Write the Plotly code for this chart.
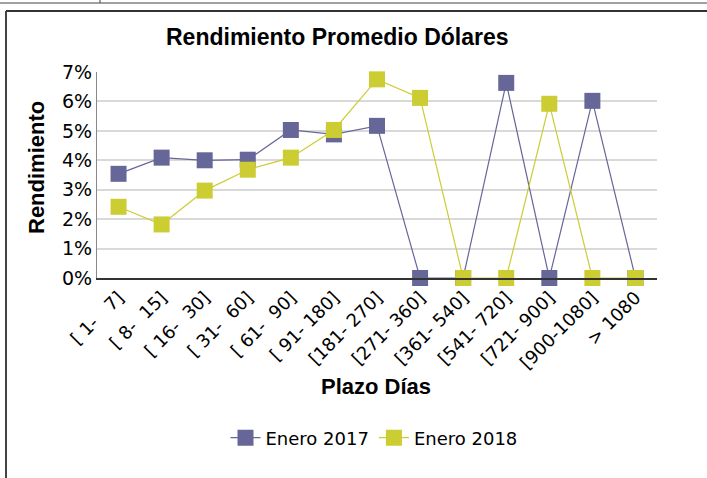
import plotly.graph_objects as go

NB = "\u00a0"
categories = ["[ 1-   7]", "[ 8-  15]", "[ 16-  30]", "[ 31-  60]", "[ 61-  90]",
              "[ 91- 180]", "[181- 270]", "[271- 360]", "[361- 540]", "[541- 720]",
              "[721- 900]", "[900-1080]", "> 1080"]
labels = [c.replace(" ", NB) for c in categories]
enero_2017 = [0.0354, 0.0409, 0.0400, 0.0402, 0.0503, 0.0488, 0.0517, 0.0, 0.0, 0.0663, 0.0, 0.0602, 0.0]
enero_2018 = [0.0242, 0.0182, 0.0297, 0.0368, 0.0409, 0.0503, 0.0675, 0.0612, 0.0, 0.0, 0.0592, 0.0, 0.0]
series_names = ["Enero 2017", "Enero 2018"]
colors = ["#666699", "#CCCC33"]

# plot area in pixels
L, R, T, B = 97, 657, 72, 278
W, H = 707, 478
def px(x): return (x - L) / (R - L)
def py(y): return (B - y) / (B - T)

fig = go.Figure()
for name, vals, c in zip(series_names, [enero_2017, enero_2018], colors):
    fig.add_trace(go.Scatter(x=labels, y=vals, name=name, mode="lines+markers",
                             line=dict(color=c, width=1.2),
                             marker=dict(symbol="square", size=16, color=c),
                             cliponaxis=False))

font_tick = "DejaVu Sans, Verdana, sans-serif"
font_bold = "Liberation Sans, Arial, sans-serif"

fig.update_layout(
    width=W, height=H,
    margin=dict(l=L, r=W - R, t=T, b=H - B),
    paper_bgcolor="white", plot_bgcolor="white",
    showlegend=True,
    legend=dict(orientation="h", x=px(374), y=py(438), xanchor="center", yanchor="middle",
                font=dict(family=font_tick, size=18, color="#000"),
                itemwidth=30, tracegroupgap=0),
    xaxis=dict(type="category", tickangle=-45, showgrid=False,
               tickfont=dict(family=font_tick, size=18, color="#000"),
               showline=True, linecolor="#333", linewidth=2,
               ticks="", range=[-0.5, 12.5]),
    yaxis=dict(range=[0, 0.07], dtick=0.01, tickformat=".0%",
               tickfont=dict(family=font_tick, size=19, color="#000"),
               showgrid=True, gridcolor="#d9d9d9", gridwidth=2,
               showline=True, linecolor="#888", linewidth=1,
               zeroline=False, ticks="", ticklen=0),
    annotations=[
        dict(text="<b>Rendimiento Promedio Dólares</b>", x=px(337), y=py(37), xref="paper", yref="paper",
             showarrow=False, font=dict(family=font_bold, size=23, color="#000"),
             xanchor="center", yanchor="middle"),
        dict(text="<b>Rendimiento</b>", x=px(36), y=py(168), xref="paper", yref="paper",
             showarrow=False, textangle=-90, font=dict(family=font_bold, size=22, color="#000"),
             xanchor="center", yanchor="middle"),
        dict(text="<b>Plazo Días</b>", x=px(376), y=py(386), xref="paper", yref="paper",
             showarrow=False, font=dict(family=font_bold, size=22, color="#000"),
             xanchor="center", yanchor="middle"),
    ],
    shapes=[
        dict(type="line", xref="paper", yref="paper", x0=px(0), x1=px(707), y0=py(3), y1=py(3),
             line=dict(color="#444", width=1)),
        dict(type="line", xref="paper", yref="paper", x0=px(100), x1=px(100), y0=py(0), y1=py(3),
             line=dict(color="#444", width=1)),
        dict(type="line", xref="paper", yref="paper", x0=px(6), x1=px(707), y0=py(11), y1=py(11),
             line=dict(color="#333", width=2)),
        dict(type="line", xref="paper", yref="paper", x0=px(6), x1=px(6), y0=py(11), y1=py(478),
             line=dict(color="#444", width=2)),
    ],
)

fig.write_html("out.html", config={"displayModeBar": False},
               post_script="document.body.style.margin='0';")
